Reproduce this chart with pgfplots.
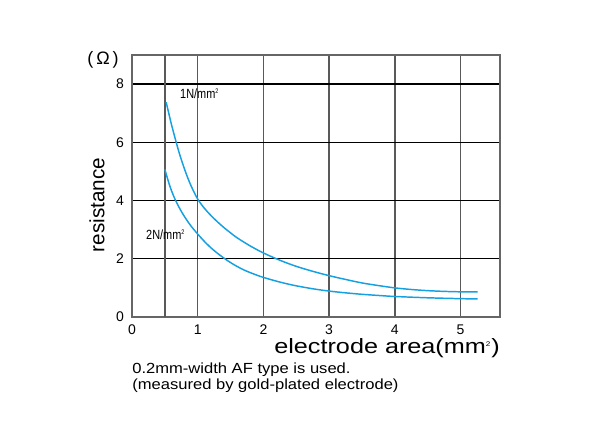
\documentclass[border=0pt]{standalone}
\usepackage{pgfplots}
\pgfplotsset{compat=1.18}
\usepackage{fontspec}
\setmainfont{Liberation Sans}
\definecolor{curve}{RGB}{20,160,225}
\begin{document}
\begin{tikzpicture}[x=0.75pt,y=0.75pt]
\useasboundingbox (-132,-123) rectangle (468,317);
\begin{axis}[
  at={(0,0)}, anchor=south west,
  scale only axis, width=276pt, height=196.5pt,
  xmin=0, xmax=5.6, ymin=0, ymax=9,
  axis line style={draw=black!60, line width=1.1pt},
  xtick={0,1,2,3,4,5}, ytick={0,2,4,6,8},
  extra x ticks={0.5}, extra x tick labels={},
  extra x tick style={grid=major, major tick length=0pt},
  xmajorgrids, ymajorgrids,
  x grid style={draw=black!65, line width=1.1pt},
  y grid style={draw=black, line width=1.0pt},
  major tick length=0pt,
  tick label style={font=\fontsize{10.5}{12}\selectfont},
  /pgf/number format/assume math mode=true,
  xticklabel style={yshift=-2pt},
  yticklabel style={xshift=-2.5pt},
  clip=false,
]
\addplot[curve, line width=1.1pt, smooth] coordinates {
(0.52,7.38) (0.6,6.62) (0.69,5.86) (0.75,5.41) (0.825,4.92) (0.9,4.50) (1.0,4.05) (1.1,3.74) (1.2,3.49) (1.3,3.27) (1.4,3.07) (1.5,2.89) (1.6,2.72) (1.8,2.44) (2.0,2.20) (2.25,1.95) (2.5,1.74) (2.75,1.57) (3.0,1.42) (3.25,1.29) (3.5,1.17) (3.75,1.08) (4.0,1.00) (4.25,0.945) (4.5,0.905) (4.75,0.88) (5.0,0.865) (5.26,0.86)
};
\addplot[curve, line width=1.1pt, smooth] coordinates {
(0.5,5.07) (0.58,4.47) (0.66,4.02) (0.75,3.63) (0.825,3.36) (0.9,3.12) (1.0,2.85) (1.1,2.60) (1.2,2.38) (1.3,2.19) (1.42,1.99) (1.55,1.80) (1.7,1.62) (1.85,1.48) (2.0,1.36) (2.25,1.20) (2.48,1.08) (2.75,0.97) (3.0,0.89) (3.25,0.83) (3.5,0.78) (3.75,0.74) (4.0,0.705) (4.5,0.66) (5.0,0.63) (5.26,0.62)
};
\end{axis}
\node[anchor=east, font=\fontsize{13.5}{15}\selectfont, inner sep=0pt] at (-13,257) {(\,Ω\,)};
\node[rotate=90, font=\fontsize{15.5}{17}\selectfont] at (-35,112) {resistance};
\node[anchor=north east, xscale=1.22, font=\fontsize{15.5}{17}\selectfont, inner sep=0pt] at (368,-21) {electrode area(mm\textsuperscript{\tiny 2})};
\node[anchor=north west, xscale=1.13, font=\fontsize{11}{11.6}\selectfont, inner sep=0pt, align=left] at (0,-46) {0.2mm-width AF type is used.\\(measured by gold-plated electrode)};
\node[anchor=west, xscale=0.82, font=\fontsize{10}{11}\selectfont, inner sep=0pt] at (48,223) {1N/mm\textsuperscript{\tiny 2}};
\node[anchor=west, xscale=0.82, font=\fontsize{10}{11}\selectfont, inner sep=0pt] at (14,82) {2N/mm\textsuperscript{\tiny 2}};
\end{tikzpicture}
\end{document}
